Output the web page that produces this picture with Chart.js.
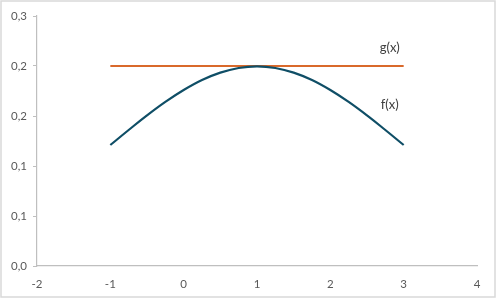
<!DOCTYPE html>
<html>
<head>
<meta charset="utf-8">
<script src="https://cdn.jsdelivr.net/npm/chart.js@4"></script>
<style>
  html, body { margin: 0; padding: 0; background: #fff; }
  #wrap { width: 496px; height: 298px; }
</style>
</head>
<body>
<div id="wrap"><canvas id="grafica" width="496" height="298"></canvas></div>
<script>
// valores
const xF = [-1, -0.75, -0.5, -0.25, 0, 0.25, 0.5, 0.75, 1, 1.25, 1.5, 1.75, 2, 2.25, 2.5, 2.75, 3];
const yF = [0.1210, 0.1360, 0.1506, 0.1641, 0.1760, 0.1860, 0.1934, 0.1980, 0.1996, 0.1980, 0.1934, 0.1860, 0.1760, 0.1641, 0.1506, 0.1360, 0.1210];
const xG = [-1, 3];
const yG = [0.2, 0.2];

const xTicks = [-2, -1, 0, 1, 2, 3, 4];
const xTickLabels = ['-2', '-1', '0', '1', '2', '3', '4'];
const yTicks = [0, 0.05, 0.1, 0.15, 0.2, 0.25];
const yTickLabels = ['0,0', '0,1', '0,1', '0,2', '0,2', '0,3'];

const seriesNames = ['f(x)', 'g(x)'];
// donde va cada etiqueta (coordenadas de datos)
const labelAnchors = [{ x: 2.81, y: 0.161 }, { x: 2.81, y: 0.218 }];

const toPoints = (xs, ys) => xs.map((x, i) => ({ x: x, y: ys[i] }));

// marco gris alrededor y etiquetas de las series
const decoPlugin = {
    id: 'deco',
    afterDraw(chart) {
        const ctx = chart.ctx;
        const sx = chart.scales.x, sy = chart.scales.y;
        ctx.save();
        ctx.strokeStyle = '#D9D9D9';
        ctx.lineWidth = 1.5;
        ctx.strokeRect(1, 1, chart.width - 2, chart.height - 2);
        ctx.fillStyle = '#404040';
        ctx.font = '13px Lato';
        ctx.textAlign = 'center';
        ctx.textBaseline = 'middle';
        seriesNames.forEach((name, i) => {
            ctx.fillText(name, sx.getPixelForValue(labelAnchors[i].x), sy.getPixelForValue(labelAnchors[i].y));
        });
        ctx.restore();
    }
};

const ctx = document.getElementById('grafica').getContext('2d');
new Chart(ctx, {
    type: 'scatter',
    data: {
        datasets: [{
            label: seriesNames[0],
            data: toPoints(xF, yF),
            showLine: true,
            borderColor: '#0F4E66',
            borderWidth: 2.2,
            pointRadius: 0,
            tension: 0.4
        }, {
            label: seriesNames[1],
            data: toPoints(xG, yG),
            showLine: true,
            borderColor: '#D9692B',
            borderWidth: 2.2,
            pointRadius: 0
        }]
    },
    options: {
        responsive: false,
        animation: false,
        layout: { padding: { top: 16, right: 19, bottom: 0, left: 0 } },
        plugins: { legend: { display: false }, tooltip: { enabled: false } },
        scales: {
            x: {
                type: 'linear',
                min: -2, max: 4,
                afterBuildTicks: (s) => { s.ticks = xTicks.map(v => ({ value: v })); },
                afterFit: (s) => { s.height = 32; },
                grid: { display: false, drawTicks: false },
                border: { color: '#BFBFBF', width: 1.2 },
                ticks: {
                    padding: 11,
                    color: '#595959',
                    font: { family: 'Lato', size: 11.5 },
                    callback: (v) => xTickLabels[xTicks.indexOf(v)]
                }
            },
            y: {
                min: 0, max: 0.25,
                afterBuildTicks: (s) => { s.ticks = yTicks.map(v => ({ value: v })); },
                afterFit: (s) => { s.width = 37; },
                grid: { drawOnChartArea: false, tickLength: 4, color: '#BFBFBF' },
                border: { color: '#BFBFBF', width: 1.2 },
                ticks: {
                    padding: 6,
                    color: '#595959',
                    font: { family: 'Lato', size: 11.5 },
                    callback: (v) => yTickLabels[yTicks.indexOf(v)]
                }
            }
        }
    },
    plugins: [decoPlugin]
});
</script>
</body>
</html>
